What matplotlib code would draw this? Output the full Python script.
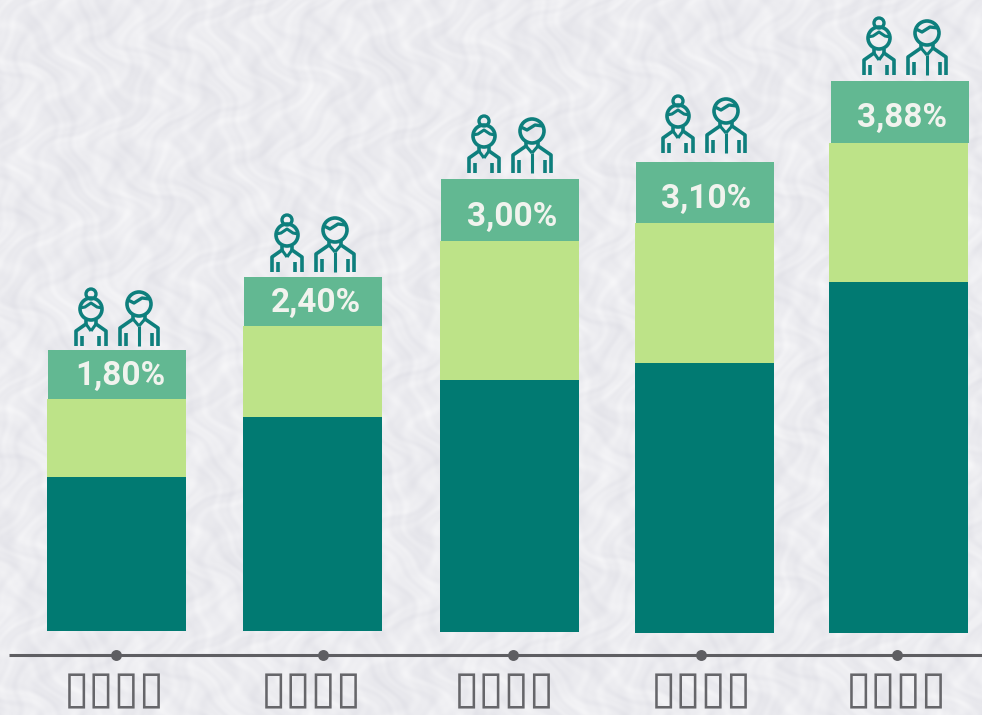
import numpy as np
import matplotlib
matplotlib.use("Agg")
import matplotlib.pyplot as plt
from matplotlib.patches import Circle

W, H = 982, 715
categories = ["▯▯▯▯"] * 5
labels = ["1,80%", "2,40%", "3,00%", "3,10%", "3,88%"]
bar_centers = [116.5, 312.5, 509.5, 704.5, 899]
baselines = [631, 631, 632, 633, 633]
dark_heights = [154, 214, 252, 270, 351]
light_heights = [78, 91, 139, 140, 139]
top_heights = [49, 49, 62, 61, 62]
tick_x = [116, 323, 513, 701, 897]
label_x = [114, 311, 504, 701, 896]
label_dx = [4, 3, 3, 2, 3]
label_dy = [26, 26, 38, 37, 37]
woman_dx = [-25.5, -25.5, -25.5, -26.5, -20]
man_dx = [22.5, 22.5, 22.5, 21.5, 28]
icon_gap = [4, 5, 6, 9, 6]

DARK, LIGHT, MID, ICON, GREY = "#017a72", "#bde388", "#62b892", "#0e7f7d", "#5e5e62"

fig = plt.figure(figsize=(W / 100, H / 100), dpi=100)
ax = fig.add_axes([0, 0, 1, 1])

# paper texture (decorative background)
yy, xx = np.mgrid[0:H, 0:W]
wx = xx + 14 * np.sin(yy * 0.05) + 6 * np.sin(yy * 0.13 + xx * 0.02)
wy = yy + 14 * np.sin(xx * 0.04) + 6 * np.sin(xx * 0.11 - yy * 0.03)
tex = (np.sin(wx * 0.19) * np.sin(wy * 0.13)
       + 0.5 * np.sin(wx * 0.41 + 1.3) * np.sin(wy * 0.31 + 0.4)
       + 0.6 * np.sin(wx * 0.07 + wy * 0.03) * np.sin(wy * 0.05 - wx * 0.02))
bg = np.stack([236 + 5 * tex, 236 + 5 * tex, 240 + 4 * tex], axis=-1).clip(0, 255) / 255
ax.imshow(bg, extent=(0, W, H, 0), aspect="auto", zorder=0, interpolation="bilinear")

dark_b = np.array(baselines, float)
light_b = dark_b - np.array(dark_heights)
top_b = light_b - np.array(light_heights)
tops = top_b - np.array(top_heights)
ax.bar(bar_centers, -np.array(dark_heights), 139, bottom=dark_b, color=DARK, zorder=2)
ax.bar(bar_centers, -np.array(light_heights), 139, bottom=light_b, color=LIGHT, zorder=2)
ax.bar(np.array(bar_centers) + 1, -np.array(top_heights), 138, bottom=top_b, color=MID, zorder=2)

ax.set_xlim(0, W)
ax.set_ylim(H, 0)
ax.axis("off")


def line(xs, ys, lw=2.6):
    ax.plot(xs, ys, color=ICON, lw=lw, solid_capstyle="butt", solid_joinstyle="round", zorder=4)


def person_body(cx, base, half, inner, shoulder_y, neck_y, neck_half):
    for s in (-1, 1):
        line([cx + s * half, cx + s * half, cx + s * neck_half, cx + s * neck_half],
             [base, shoulder_y, neck_y, neck_y - 4])
        line([cx + s * inner] * 2, [base, shoulder_y + 5])
        line([cx + s * neck_half, cx], [neck_y, neck_y + 7], 2.2)


def woman(cx, base):
    ax.add_patch(Circle((cx, base - 37), 11, fill=False, ec=ICON, lw=2.6, zorder=4))
    ax.add_patch(Circle((cx, base - 52), 5, fill=False, ec=ICON, lw=2.4, zorder=4))
    line([cx - 11, cx - 6, cx, cx + 6, cx + 11],
         [base - 38, base - 39, base - 43, base - 39, base - 38], 2.2)
    person_body(cx, base, 15, 8.5, base - 15, base - 22, 5)


def man(cx, base):
    ax.add_patch(Circle((cx, base - 42), 12, fill=False, ec=ICON, lw=2.6, zorder=4))
    line([cx - 11, cx - 5, cx + 3, cx + 11],
         [base - 46, base - 43, base - 48, base - 47], 2.4)
    person_body(cx, base, 19, 13, base - 18, base - 27, 6)
    line([cx, cx], [base - 20, base], 2.2)


for c, t, lab, tdx, tdy, wdx, mdx, gap in zip(bar_centers, tops, labels, label_dx, label_dy,
                                              woman_dx, man_dx, icon_gap):
    woman(c + wdx, t - gap)
    man(c + mdx, t - gap)
    ax.text(c + tdx, t + tdy, lab, color="#f1f3ee", family="Roboto", weight="bold",
            fontsize=24, ha="center", va="center", zorder=5)

ax.plot([9, W], [655, 655], color=GREY, lw=2.2, zorder=3, solid_capstyle="butt")
ax.scatter(tick_x, [655] * 5, s=62, color=GREY, linewidths=0, zorder=3)
for x, cat in zip(label_x, categories):
    ax.text(x, 713.5, cat, color="#66666a", family="DejaVu Sans", fontsize=33,
            ha="center", va="bottom", zorder=3)

fig.savefig("out.png", dpi=100)
